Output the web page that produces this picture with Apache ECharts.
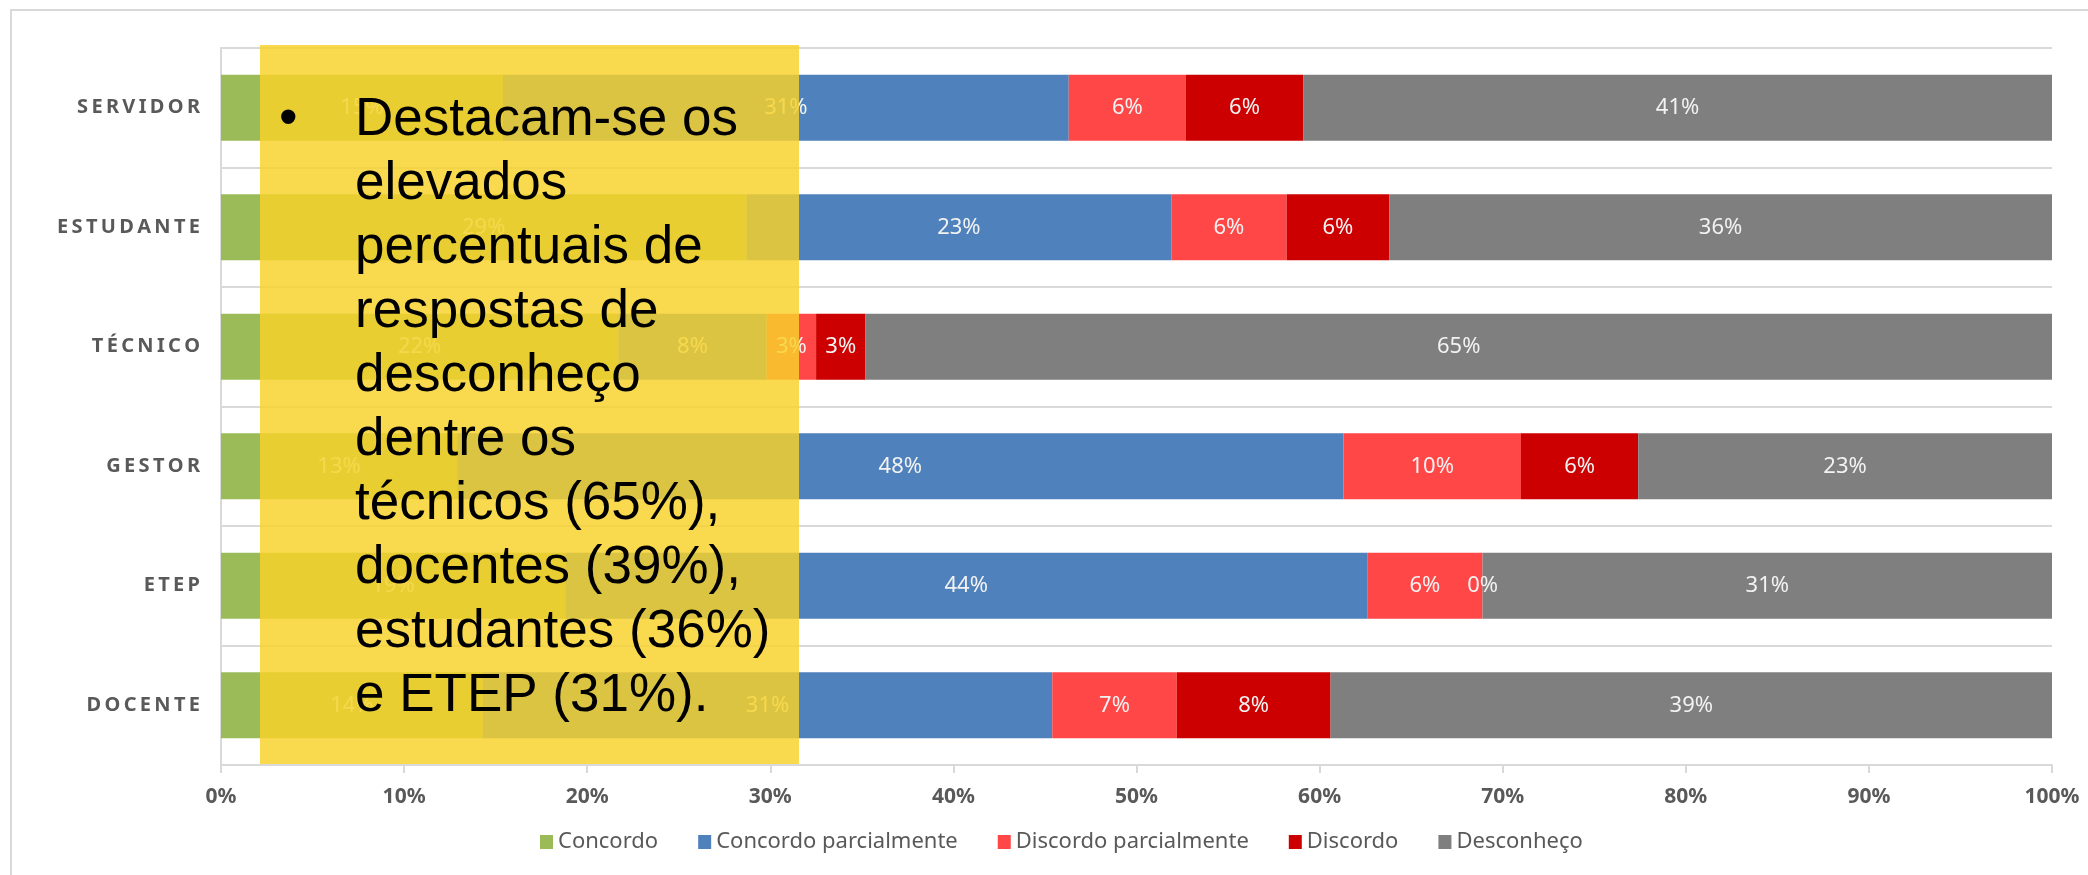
<!DOCTYPE html>
<html>
<head>
<meta charset="utf-8">
<script src="https://cdn.jsdelivr.net/npm/echarts@6/dist/echarts.min.js"></script>
<style>
  html, body { margin: 0; padding: 0; background: #fff; }
  #chart { width: 2088px; height: 875px; }
</style>
</head>
<body>
<div id="chart"></div>
<script>
// categories, top to bottom
const categories = ['SERVIDOR', 'ESTUDANTE', 'TÉCNICO', 'GESTOR', 'ETEP', 'DOCENTE'];

// percent of answers per group
const concordo = [15.4, 28.7, 21.7, 12.9, 18.8, 14.3];
const concordoParcialmente = [30.9, 23.2, 8.1, 48.4, 43.8, 31.1];
const discordoParcialmente = [6.4, 6.3, 2.7, 9.7, 6.3, 6.8];
const discordo = [6.4, 5.6, 2.7, 6.4, 0, 8.4];
const desconheco = [40.9, 36.2, 64.8, 22.6, 31.1, 39.4];

const xTicks = [0, 10, 20, 30, 40, 50, 60, 70, 80, 90, 100];

const note = [
  'Destacam-se os',
  'elevados',
  'percentuais de',
  'respostas de',
  'desconheço',
  'dentre os',
  'técnicos (65%),',
  'docentes (39%),',
  'estudantes (36%)',
  'e ETEP (31%).'
];

const grey = '#d9d9d9';
const textGrey = '#595959';

function barSeries(name, data, color) {
  return {
    name: name,
    type: 'bar',
    stack: 'total',
    barWidth: 66,
    data: data,
    itemStyle: { color: color },
    label: {
      show: true,
      position: 'inside',
      color: '#f2f2f2',
      fontFamily: 'Noto Sans',
      fontSize: 22,
      formatter: p => Math.round(p.value) + '%'
    },
    emphasis: { disabled: true }
  };
}

const chart = echarts.init(document.getElementById('chart'), null, { renderer: 'canvas' });

chart.setOption({
  animation: false,
  backgroundColor: '#fff',
  grid: { left: 221, right: 36, top: 48, bottom: 110 },
  legend: {
    left: 535,
    top: 826,
    itemWidth: 13,
    itemHeight: 14,
    itemGap: 40,
    icon: 'rect',
    textStyle: { fontFamily: 'Noto Sans', fontSize: 22, color: textGrey },
    data: ['Concordo', 'Concordo parcialmente', 'Discordo parcialmente', 'Discordo', 'Desconheço']
  },
  xAxis: {
    type: 'value',
    min: xTicks[0],
    max: xTicks[xTicks.length - 1],
    interval: xTicks[1] - xTicks[0],
    axisLine: { show: true, lineStyle: { color: grey, width: 2 } },
    axisTick: { show: true, length: 8, lineStyle: { color: grey, width: 2 } },
    splitLine: { show: false },
    axisLabel: {
      margin: 22,
      color: textGrey,
      fontFamily: 'Noto Sans',
      fontWeight: 'bold',
      fontSize: 21,
      formatter: '{value}%'
    }
  },
  yAxis: {
    type: 'category',
    inverse: true,
    data: categories,
    axisLine: { show: true, lineStyle: { color: grey, width: 2 } },
    axisTick: { show: false },
    splitLine: { show: true, interval: 0, lineStyle: { color: grey, width: 2 } },
    axisLabel: {
      margin: 21,
      color: textGrey,
      fontFamily: 'Noto Sans',
      fontWeight: 'bold',
      fontSize: 20,
      // spaced capitals like the original
      formatter: v => v.split('').join('\u2009')
    }
  },
  series: [
    barSeries('Concordo', concordo, '#9bbb59'),
    barSeries('Concordo parcialmente', concordoParcialmente, '#4f81bd'),
    barSeries('Discordo parcialmente', discordoParcialmente, '#ff4747'),
    barSeries('Discordo', discordo, '#cc0000'),
    barSeries('Desconheço', desconheco, '#7f7f7f')
  ],
  graphic: [
    {
      type: 'rect',
      z: -1,
      silent: true,
      shape: { x: 11, y: 10, width: 2200, height: 1000 },
      style: { fill: 'none', stroke: grey, lineWidth: 2 }
    },
    {
      type: 'rect',
      z: 100,
      silent: true,
      shape: { x: 260, y: 45, width: 539, height: 719 },
      style: { fill: 'rgba(248,210,43,0.835)' }
    },
    {
      type: 'text',
      z: 101,
      silent: true,
      left: 279,
      top: 88,
      style: {
        text: '•',
        font: '53px "Liberation Sans", Arial, sans-serif',
        lineHeight: 64,
        fill: '#000'
      }
    },
    {
      type: 'text',
      z: 101,
      silent: true,
      left: 355,
      top: 88,
      style: {
        text: note.join('\n'),
        font: '53px "Liberation Sans", Arial, sans-serif',
        lineHeight: 64,
        fill: '#000'
      }
    }
  ]
});
</script>
</body>
</html>
